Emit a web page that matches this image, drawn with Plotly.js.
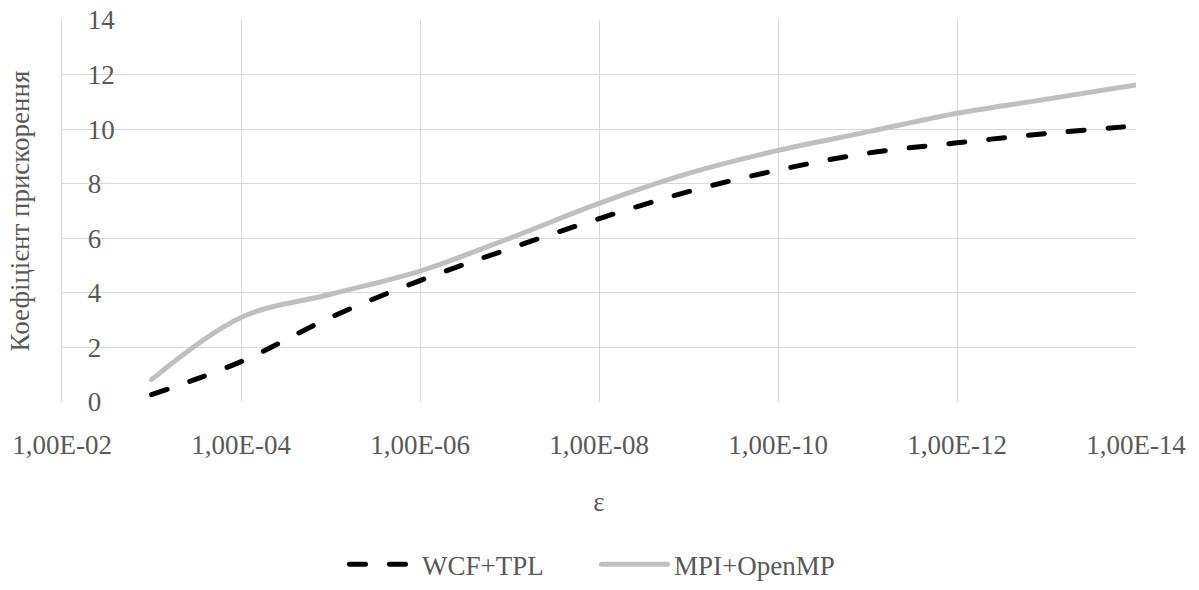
<!DOCTYPE html>
<html>
<head>
<meta charset="utf-8">
<script src="https://cdn.plot.ly/plotly-3.0.1.min.js"></script>
<style>
  html, body { margin: 0; padding: 0; background: #fff; }
  #chart { width: 1199px; height: 590px; }
  #chart svg text { font-family: "Liberation Serif", "Times New Roman", Times, serif !important; }
  .scatterlayer .js-line, .legendlines path { stroke-linecap: round !important; stroke-linejoin: round !important; }
</style>
</head>
<body>
<div id="chart"></div>
<script>
// Data
const epsilon = [1e-3, 1e-4, 1e-5, 1e-6, 1e-7, 1e-8, 1e-9, 1e-10, 1e-11, 1e-12, 1e-13, 1e-14];
const wcfTpl = [0.27, 1.48, 3.1, 4.45, 5.62, 6.72, 7.71, 8.5, 9.12, 9.5, 9.84, 10.12];
const mpiOpenMp = [0.82, 3.1, 3.95, 4.8, 6.0, 7.28, 8.38, 9.22, 9.9, 10.58, 11.1, 11.62];
const xTickVals = [1e-2, 1e-4, 1e-6, 1e-8, 1e-10, 1e-12, 1e-14];
const xTickText = ['1,00E-02', '1,00E-04', '1,00E-06', '1,00E-08', '1,00E-10', '1,00E-12', '1,00E-14'];
const seriesNames = ['WCF+TPL', 'MPI+OpenMP'];

const FONT = 'Times';
const TXT = '#595959';
const GRID = '#d9d9d9';

const traces = [
  {
    x: epsilon, y: wcfTpl, name: seriesNames[0], type: 'scatter', mode: 'lines',
    line: { color: '#000000', width: 5, dash: '16px,24px', shape: 'spline', smoothing: 1 }
  },
  {
    x: epsilon, y: mpiOpenMp, name: seriesNames[1], type: 'scatter', mode: 'lines',
    line: { color: '#bfbfbf', width: 5, shape: 'spline', smoothing: 1 }
  }
];

const layout = {
  width: 1199, height: 590,
  margin: { l: 62, r: 63, t: 20, b: 188 },
  paper_bgcolor: '#ffffff', plot_bgcolor: '#ffffff',
  showlegend: true,
  legend: {
    orientation: 'h', x: 0.5, xanchor: 'center',
    yref: 'container', y: 0.043, yanchor: 'middle',
    font: { family: FONT, size: 27, color: TXT },
    itemwidth: 65, traceorder: 'normal',
    entrywidth: 172, entrywidthmode: 'pixels'
  },
  xaxis: {
    type: 'log', range: [-1.9995, -14],
    tickvals: xTickVals, ticktext: xTickText,
    showgrid: true, gridcolor: GRID, gridwidth: 1.3,
    showline: false, zeroline: false, ticks: '',
    ticklabelstandoff: 24,
    tickfont: { family: FONT, size: 27, color: TXT },
    title: { text: 'ε', font: { family: FONT, size: 27, color: TXT }, standoff: 33 }
  },
  yaxis: {
    range: [0, 14], dtick: 2, tick0: 0,
    showgrid: true, gridcolor: GRID, gridwidth: 1.3,
    showline: true, linecolor: GRID, linewidth: 1.3,
    zeroline: false, ticks: '',
    ticklabelposition: 'inside', ticklabelstandoff: 28, ticklabeloverflow: 'allow',
    tickfont: { family: FONT, size: 27, color: TXT },
    title: { text: 'Коефіцієнт прискорення', font: { family: FONT, size: 27, color: TXT }, standoff: 50 }
  }
};

Plotly.newPlot('chart', traces, layout, { displayModeBar: false }).then(function (gd) {
  // lengthen the legend line samples to match the reference
  document.querySelectorAll('.legendlines path').forEach(function (p) {
    p.setAttribute('d', 'M2.5,0h66');
  });
});
</script>
</body>
</html>
